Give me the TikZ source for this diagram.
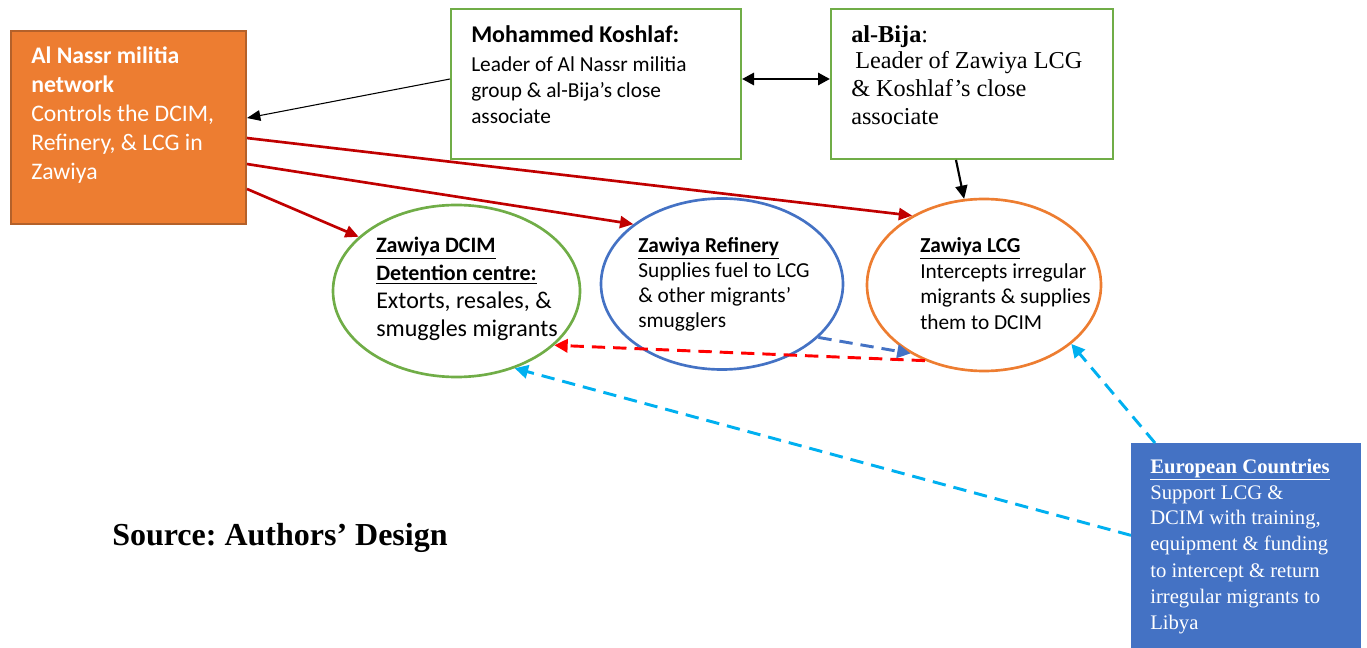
\documentclass[tikz,border=0pt]{standalone}
\usepackage{fontspec}
\setmainfont{Carlito}
\newfontfamily\tnr{Liberation Serif}
\usetikzlibrary{arrows.meta,shapes.geometric}
\frenchspacing
\definecolor{orng}{HTML}{ED7D31}
\definecolor{orngdk}{HTML}{B4612A}
\definecolor{grn}{HTML}{70AD47}
\definecolor{blu}{HTML}{4472C4}
\definecolor{dkred}{HTML}{C00000}
\definecolor{brred}{HTML}{FF0000}
\definecolor{cyn}{HTML}{00B0F0}
\newcommand\txtlines[1]{\begin{tabular}[t]{@{}l@{}}#1\end{tabular}}
\tikzset{
  boxshape/.style={draw, line width=1.5pt, rectangle, inner sep=0pt, anchor=north west},
  ellshape/.style={draw, line width=2pt, ellipse, inner sep=0pt},
  txt/.style={inner sep=0pt, anchor=base west},
  redarrow/.style={draw=dkred, line width=2pt, -{Triangle[length=10pt,width=9pt]}, color=dkred},
  blkarrow/.style={draw=black, line width=0.8pt, -{Triangle[length=10pt,width=8pt]}},
  dasharrow/.style={line width=2.2pt, dash pattern=on 10pt off 6pt, -{Triangle[length=10pt,width=10pt]}},
}
\begin{document}
\begin{tikzpicture}[x=0.75pt,y=-0.75pt]
\useasboundingbox (0,0) rectangle (1367,648);
% shapes
\node[boxshape, draw=orngdk, fill=orng, minimum width=176.25pt, minimum height=144.75pt] (nassr) at (10,30) {};
\node[boxshape, draw=grn, minimum width=217.5pt, minimum height=112.5pt] (koshlaf) at (450,8) {};
\node[boxshape, draw=grn, minimum width=211.5pt, minimum height=112.5pt] (bija) at (830,8) {};
\node[boxshape, draw=blu, fill=blu, line width=0.6pt, minimum width=171.75pt, minimum height=153.75pt] (euro) at (1131,443) {};
\node[ellshape, draw=grn, minimum width=185.25pt, minimum height=129pt] (dcim) at (456.5,291) {};
\node[ellshape, draw=blu, minimum width=181.5pt, minimum height=128.25pt] (refinery) at (722,284) {};
\node[ellshape, draw=orng, minimum width=175.5pt, minimum height=129pt] (lcg) at (984,285) {};
% texts
\node[txt, text=white, font=\fontsize{17.8}{21.75}\selectfont] (nassrtxt) at (31,64)
  {\txtlines{\textbf{Al Nassr militia}\\ \textbf{network}\\ Controls the DCIM,\\ Refinery, \& LCG in\\ Zawiya}};
\node[txt, font=\fontsize{18}{21}\selectfont\bfseries] (koshtitle) at (471,43) {Mohammed Koshlaf:};
\node[txt, font=\fontsize{16}{19.5}\selectfont] (koshtxt) at (471,72)
  {\txtlines{Leader of Al Nassr militia\\ group \& al-Bija’s close\\ associate}};
\node[txt, font=\fontsize{18.2}{21}\selectfont\tnr] (bijatitle) at (851,43) {\textbf{al-Bija}:};
\node[txt, font=\fontsize{18.2}{21}\selectfont\tnr] (bijatxt) at (851,69)
  {\txtlines{\hspace*{3pt}Leader of Zawiya LCG\\ \& Koshlaf’s close\\ associate}};
\node[txt, font=\fontsize{16.5}{21}\selectfont] (dcimtxt) at (376,253)
  {\txtlines{\textbf{\underline{Zawiya DCIM}}\\ \textbf{\underline{Detention centre:}}\\ {\fontsize{18}{21}\selectfont Extorts, resales, \&}\\ {\fontsize{18}{21}\selectfont smuggles migrants}}};
\node[txt, font=\fontsize{16}{18.75}\selectfont] (reftxt) at (638,253)
  {\txtlines{\textbf{\underline{Zawiya Refinery}}\\ Supplies fuel to LCG\\ \& other migrants’\\ smugglers}};
\node[txt, font=\fontsize{16}{19.1}\selectfont] (lcgtxt) at (920,253)
  {\txtlines{\textbf{\underline{Zawiya LCG}}\\ Intercepts irregular\\ migrants \& supplies\\ them to DCIM}};
\node[txt, text=white, font=\fontsize{15.5}{19.5}\selectfont\tnr] (eurotxt) at (1150,473)
  {\txtlines{\textbf{\underline{European Countries}}\\ Support LCG \&\\ DCIM with training,\\ equipment \& funding\\ to intercept \& return\\ irregular migrants to\\ Libya}};
\node[txt, font=\fontsize{24}{28}\selectfont\tnr\bfseries] (source) at (112,545) {Source: Authors’ Design};
% connectors
\draw[blkarrow] ([yshift=3.75pt]koshlaf.west) -- ([yshift=7.1pt]nassr.east);
\draw[line width=2.2pt, {Triangle[length=9pt,width=9pt]}-{Triangle[length=9pt,width=9pt]}] ([yshift=3.75pt]koshlaf.east) -- ([yshift=3.75pt]bija.west);
\draw[line width=1.6pt, -{Triangle[length=10pt,width=9pt]}] ([xshift=-12pt]bija.south) -- (lcg.103.6);
\draw[redarrow] ([yshift=-7.9pt]nassr.east) -- (lcg.136.3);
\draw[redarrow] ([yshift=-27.4pt]nassr.east) -- (refinery.146.6);
\draw[redarrow] ([yshift=-46.1pt]nassr.east) -- (dcim.151.7);
\draw[dasharrow, brred] (lcg.232.5) -- (dcim.331.7);
\draw[dasharrow, blu] (refinery.331) -- (lcg.223.2);
\draw[dasharrow, cyn] ([yshift=7.9pt]euro.west) -- (dcim.307);
\draw[dasharrow, cyn] ([xshift=18pt]euro.north west) -- (lcg.326);
\end{tikzpicture}
\end{document}
